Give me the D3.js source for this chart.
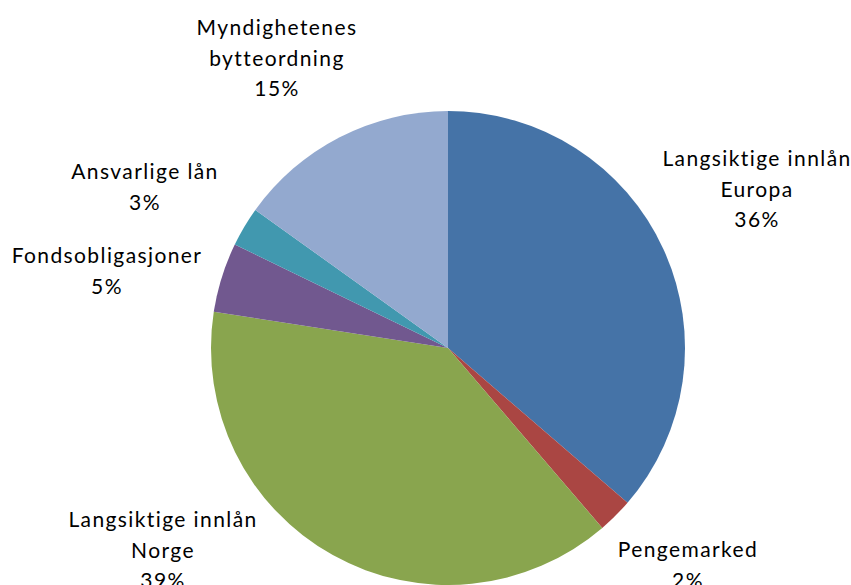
<!DOCTYPE html>
<html>
<head>
<meta charset="utf-8">
<script src="https://cdn.jsdelivr.net/npm/d3@7"></script>
<style>
  body { margin: 0; background: #fff; }
  text { font-family: Lato, "Open Sans", sans-serif; font-size: 21px; fill: #000; letter-spacing: 1.4px; }
</style>
</head>
<body>
<svg id="chart"></svg>
<script>
// data (share of funding, %)
const categories = ["Langsiktige innlån Europa", "Pengemarked", "Langsiktige innlån Norge",
                    "Fondsobligasjoner", "Ansvarlige lån", "Myndighetenes bytteordning"];
const values = [36.3, 2.4, 38.7, 4.75, 2.7, 15.1];
const pctLabels = ["36%", "2%", "39%", "5%", "3%", "15%"];
// label lines (wrapped like the original)
const labelLines = [
  ["Langsiktige innlån", "Europa"],
  ["Pengemarked"],
  ["Langsiktige innlån", "Norge"],
  ["Fondsobligasjoner"],
  ["Ansvarlige lån"],
  ["Myndighetenes", "bytteordning"]
];
const colors = ["#4573A7", "#AA4643", "#89A54E", "#71588F", "#4198AF", "#93A9CF"];

const width = 851, height = 585;
const cx = 448, cy = 348, radius = 237;

const svg = d3.select("#chart")
  .attr("width", width)
  .attr("height", height);

const g = svg.append("g")
  .attr("transform", `translate(${cx},${cy})`);

const data = categories.map((c, i) => ({ name: c, value: values[i], pct: pctLabels[i], lines: labelLines[i], color: colors[i] }));

const pie = d3.pie().value(d => d.value).sort(null);
const arc = d3.arc().innerRadius(0).outerRadius(radius);
const arcs = pie(data);

g.selectAll("path.slice")
  .data(arcs)
  .join("path")
  .attr("class", "slice")
  .attr("d", arc)
  .attr("fill", d => d.data.color);

// label anchor points (centre x, first line centre y) relative to the page,
// placed outside the pie like Excel's best-fit labels
const labelPos = [
  { x: 757, y: 157 },
  { x: 688, y: 548 },
  { x: 163, y: 518 },
  { x: 107, y: 254 },
  { x: 145, y: 170 },
  { x: 277, y: 26 }
];
const lineH = 30.5;

const labels = svg.selectAll("text.lbl")
  .data(arcs)
  .join("text")
  .attr("class", "lbl")
  .attr("text-anchor", "middle")
  .attr("dominant-baseline", "central");

labels.each(function (d, i) {
  const t = d3.select(this);
  const lines = d.data.lines.concat([d.data.pct]);
  lines.forEach((ln, k) => {
    t.append("tspan")
      .attr("x", labelPos[i].x)
      .attr("y", labelPos[i].y + k * lineH)
      .text(ln);
  });
});
</script>
</body>
</html>
